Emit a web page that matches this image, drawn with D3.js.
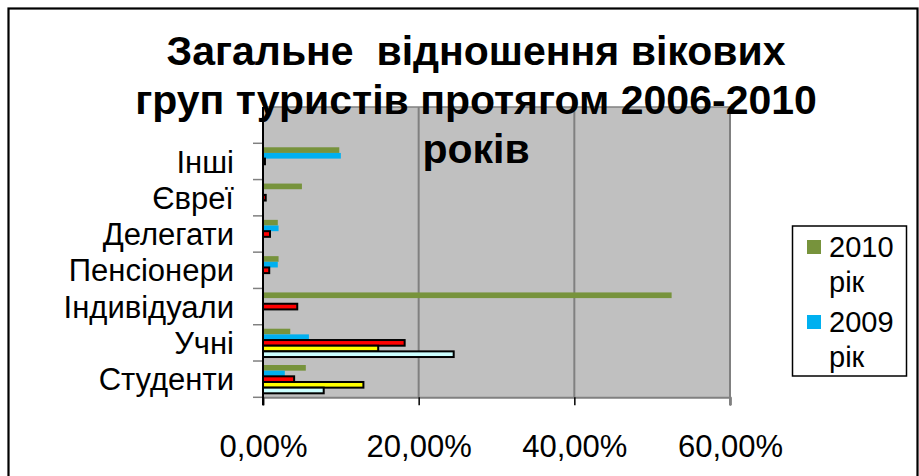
<!DOCTYPE html>
<html><head><meta charset="utf-8">
<script src="https://cdn.jsdelivr.net/npm/d3@7/dist/d3.min.js"></script>
<style>body{margin:0;background:#fff}svg{display:block}text{font-family:"Liberation Sans",Arial,sans-serif;white-space:pre}</style>
</head><body>
<svg id="c" width="919" height="476"></svg>
<script>
const categories = ["", "Інші", "Євреї", "Делегати", "Пенсіонери", "Індивідуали", "Учні", "Студенти"];
const seriesNames = ["2010 рік", "2009 рік", "2008 рік", "2007 рік", "2006 рік"];
const v2010 = [null, 9.8, 5.0, 1.9, 2.0, 52.5, 3.5, 5.5];
const v2009 = [null, 10.0, 0, 2.0, 1.9, 0, 5.9, 2.8];
const v2008 = [null, 0.25, 0.35, 0.9, 0.8, 4.4, 18.2, 4.0];
const v2007 = [null, 0, 0, 0, 0, 0, 14.8, 12.9];
const v2006 = [null, 0, 0, 0, 0, 0, 24.5, 7.8];
const xTicks = [0, 20, 40, 60];
const titleLines = ["Загальне  відношення вікових", "груп туристів протягом 2006-2010", "років"];
const legendShown = [0, 1];

const seriesValues = [v2010, v2009, v2008, v2007, v2006];
const fills = ["#77933C", "#00B0F0", "#FF0000", "#FFFF00", "#CCFFFF"];
const strokes = [null, null, "#000", "#000", "#000"];

const svg = d3.select("#c");
const P = {left: 263, right: 730, top: 107, bottom: 397.3};

// outer border
svg.append("rect").attr("x", 8.5).attr("y", 8.5).attr("width", 909).attr("height", 480)
  .attr("fill", "#fff").attr("stroke", "#000").attr("stroke-width", 2.2);

const x = d3.scaleLinear().domain([0, 60]).range([P.left, P.right]);
const y0 = d3.scaleBand().domain(categories).range([P.top, P.bottom]).paddingInner(0.22).paddingOuter(0.11);
const y1 = d3.scaleBand().domain(d3.range(seriesNames.length)).range([0, y0.bandwidth()]);

// plot bg
svg.append("rect").attr("x", P.left).attr("y", P.top).attr("width", P.right - P.left).attr("height", P.bottom - P.top)
  .attr("fill", "#C0C0C0");

// gridlines
svg.append("g").selectAll("line").data(xTicks.filter(t => t > 0)).join("line")
  .attr("x1", d => x(d)).attr("x2", d => x(d)).attr("y1", P.top).attr("y2", P.bottom)
  .attr("stroke", "#808080").attr("stroke-width", 2);
svg.append("line").attr("x1", P.left).attr("x2", P.right).attr("y1", P.top).attr("y2", P.top)
  .attr("stroke", "#808080").attr("stroke-width", 1.5);

// bars
const groups = svg.append("g").selectAll("g").data(categories).join("g")
  .attr("transform", c => `translate(0,${y0(c)})`);
groups.selectAll("rect").data((c, ci) => seriesValues.map((s, si) => ({si, v: s[ci]})).filter(d => d.v))
  .join("rect")
  .attr("x", x(0)).attr("y", d => y1(d.si))
  .attr("width", d => x(d.v) - x(0)).attr("height", y1.bandwidth())
  .attr("fill", d => fills[d.si])
  .attr("stroke", d => strokes[d.si] || "none").attr("stroke-width", 2);

// x axis
const fmt = d3.formatLocale({decimal: ",", thousands: " ", grouping: [3], currency: ["", ""]});
const xAxis = svg.append("g").attr("transform", `translate(0,${P.bottom})`)
  .call(d3.axisBottom(x).tickValues(xTicks).tickSize(8).tickPadding(30)
    .tickFormat(d => fmt.format(".2f")(d) + "%"));
xAxis.select(".domain").attr("stroke", "#808080").attr("stroke-width", 2);
xAxis.selectAll(".tick line").attr("stroke", "#000").attr("stroke-width", 1.5);
xAxis.selectAll("text").attr("font-size", 31).attr("fill", "#000");

// y axis labels
const yAxis = svg.append("g").attr("transform", `translate(${P.left},0)`)
  .call(d3.axisLeft(y0).tickSize(0).tickPadding(29));
yAxis.select(".domain").remove();
yAxis.selectAll("text").attr("font-size", 31).attr("fill", "#000").attr("dy", "0.36em");
// category boundary ticks
svg.append("g").selectAll("line").data(categories.slice(1)).join("line")
  .attr("x1", P.left - 10).attr("x2", P.left)
  .attr("y1", c => y0(c) - y0.step() * y0.paddingInner() / 2)
  .attr("y2", c => y0(c) - y0.step() * y0.paddingInner() / 2)
  .attr("stroke", "#808080").attr("stroke-width", 1.5);
svg.append("line").attr("x1", P.left - 10).attr("x2", P.left).attr("y1", P.bottom).attr("y2", P.bottom)
  .attr("stroke", "#808080").attr("stroke-width", 1.5);
svg.append("line").attr("x1", P.left).attr("x2", P.left).attr("y1", P.top).attr("y2", P.bottom + 8)
  .attr("stroke", "#000").attr("stroke-width", 2);
svg.append("line").attr("x1", P.right).attr("x2", P.right).attr("y1", P.top).attr("y2", P.bottom + 8)
  .attr("stroke", "#808080").attr("stroke-width", 2);

// title
svg.append("g").selectAll("text").data(titleLines).join("text")
  .attr("x", 476).attr("y", (d, i) => 65 + i * 49)
  .attr("text-anchor", "middle").attr("font-size", 41).attr("font-weight", "bold").attr("fill", "#000")
  .text(d => d);

// legend
const lg = svg.append("g");
lg.append("rect").attr("x", 792.5).attr("y", 226).attr("width", 114).attr("height", 150)
  .attr("fill", "#fff").attr("stroke", "#000").attr("stroke-width", 1.5);
const items = lg.selectAll("g").data(legendShown).join("g")
  .attr("transform", (d, i) => `translate(807,${240 + i * 75})`);
items.append("rect").attr("width", 14).attr("height", 14).attr("fill", d => fills[d]);
items.append("text").attr("x", 22).attr("y", 17).attr("font-size", 29).attr("fill", "#000")
  .selectAll("tspan").data(d => seriesNames[d].split(" ")).join("tspan")
  .attr("x", 22).attr("dy", (t, i) => i ? 35 : 0).text(t => t);
</script>
</body></html>
